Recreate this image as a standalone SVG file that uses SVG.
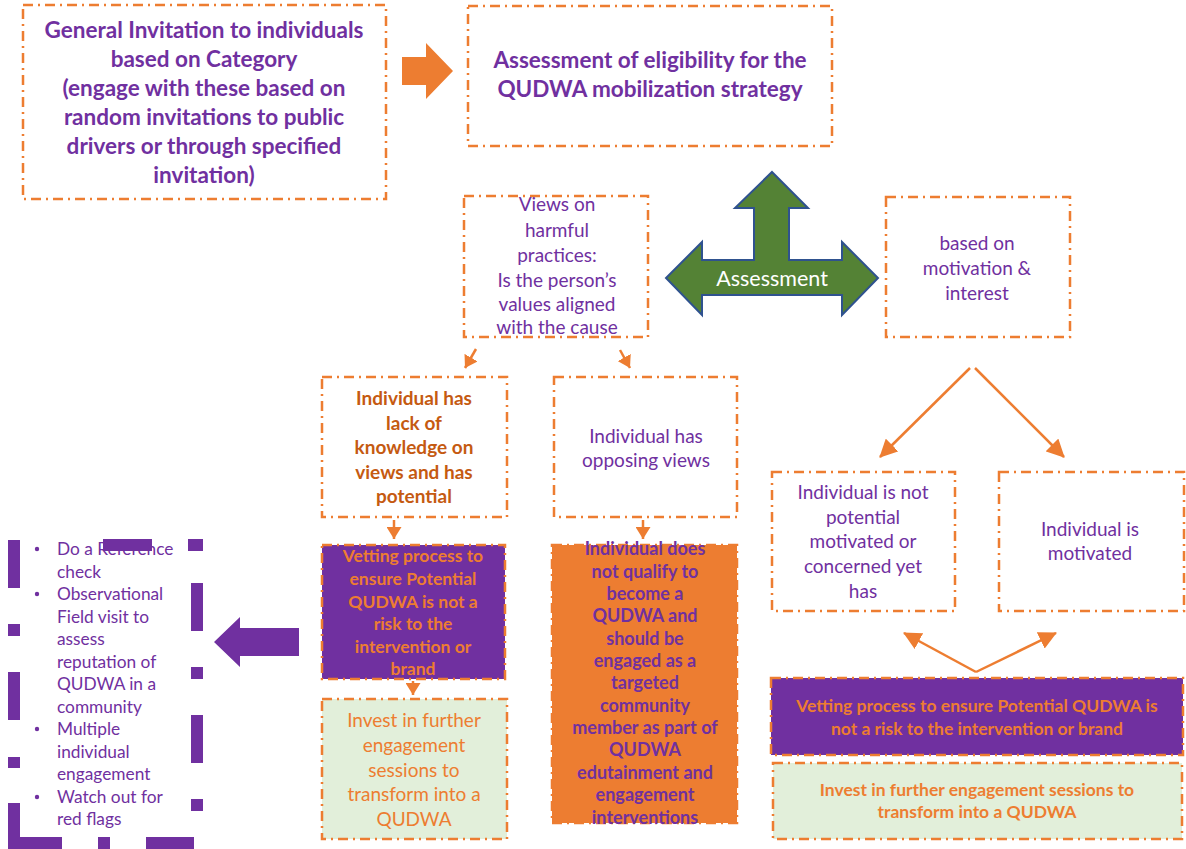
<svg xmlns="http://www.w3.org/2000/svg" width="1186" height="849" viewBox="0 0 1186 849">
<defs>
<style>
.ob{fill:#FFFFFF;stroke:#ED7D31;stroke-width:2.5;stroke-dasharray:10 5 2 5}
.pf{fill:#7030A0;stroke:#ED7D31;stroke-width:2.5;stroke-dasharray:10 5 2 5}
.of{fill:#ED7D31;stroke:#ED7D31;stroke-width:2.5;stroke-dasharray:10 5 2 5}
.gf{fill:#E2EFDA;stroke:#ED7D31;stroke-width:2.5;stroke-dasharray:10 5 2 5}
text{font-family:Lato,"Liberation Sans",sans-serif;text-anchor:middle}
.tp{fill:#7030A0;font-size:19px}
.tpb{fill:#7030A0;font-size:22.5px;font-weight:bold}
.tdo{fill:#C55A11;font-size:19px;font-weight:bold}
.tob{fill:#ED7D31;font-size:17.5px;font-weight:bold}
.to{fill:#ED7D31;font-size:19px}
.tpb2{fill:#7030A0;font-size:18px;font-weight:bold}
.tl{fill:#7030A0;font-size:17.3px;text-anchor:start}
.con{stroke:#ED7D31;stroke-width:2.5;fill:none}
</style>
<marker id="sh" viewBox="0 0 12 15" refX="12" refY="7.5" markerWidth="12" markerHeight="15" markerUnits="userSpaceOnUse" orient="auto"><path d="M0,0 L12,7.5 L0,15 Z" fill="#ED7D31"/></marker>
<marker id="lh" viewBox="0 0 18 18" refX="17" refY="9" markerWidth="18" markerHeight="18" markerUnits="userSpaceOnUse" orient="auto"><path d="M0,0 L18,9 L0,18 Z" fill="#ED7D31"/></marker>
</defs>

<g id="node-invitation">
<rect class="ob" x="23" y="5" width="363" height="194"/>
<text class="tpb"><tspan x="204" y="38">General Invitation to individuals</tspan><tspan x="204" y="67">based on Category</tspan><tspan x="204" y="96">(engage with these based on</tspan><tspan x="204" y="125">random invitations to public</tspan><tspan x="204" y="154">drivers or through specified</tspan><tspan x="204" y="183">invitation)</tspan></text>
</g>

<g id="node-eligibility">
<rect class="ob" x="468" y="6" width="364" height="140"/>
<text class="tpb"><tspan x="650" y="68">Assessment of eligibility for the</tspan><tspan x="650" y="97">QUDWA mobilization strategy</tspan></text>
</g>

<g id="node-views">
<rect class="ob" x="464" y="196" width="184" height="141"/>
<text class="tp"><tspan x="557" y="211">Views on</tspan><tspan x="557" y="236.5">harmful</tspan><tspan x="557" y="261.5">practices:</tspan><tspan x="557" y="286.5">Is the person’s</tspan><tspan x="557" y="310.5">values aligned</tspan><tspan x="557" y="334">with the cause</tspan></text>
</g>

<g id="node-assessment">
<path d="M772,172 L808,208 L789,208 L789,260 L842,260 L842,242 L878,278 L842,315 L842,295 L702,295 L702,315 L666,278 L702,242 L702,260 L754,260 L754,208 L735,208 Z" fill="#548235" stroke="#2F528F" stroke-width="2"/>
<text x="772" y="286" style="fill:#FFFFFF;font-size:21.5px">Assessment</text>
</g>

<g id="node-motivation">
<rect class="ob" x="886" y="197" width="184" height="140"/>
<text class="tp"><tspan x="977" y="250">based on</tspan><tspan x="977" y="275">motivation &amp;</tspan><tspan x="977" y="300">interest</tspan></text>
</g>

<g id="node-lack">
<rect class="ob" x="322" y="377" width="185" height="140"/>
<text class="tdo"><tspan x="414" y="405">Individual has</tspan><tspan x="414" y="429.5">lack of</tspan><tspan x="414" y="454">knowledge on</tspan><tspan x="414" y="478.5">views and has</tspan><tspan x="414" y="503">potential</tspan></text>
</g>

<g id="node-opposing">
<rect class="ob" x="554" y="377" width="183" height="140"/>
<text class="tp"><tspan x="646" y="443">Individual has</tspan><tspan x="646" y="467">opposing views</tspan></text>
</g>

<g id="node-vetting-left">
<rect class="pf" x="322" y="545" width="183" height="134"/>
<text class="tob"><tspan x="413" y="562">Vetting process to</tspan><tspan x="413" y="585">ensure Potential</tspan><tspan x="413" y="607.5">QUDWA is not a</tspan><tspan x="413" y="630">risk to the</tspan><tspan x="413" y="652.5">intervention or</tspan><tspan x="413" y="675">brand</tspan></text>
</g>

<g id="node-invest-left">
<rect class="gf" x="322" y="699" width="185" height="140"/>
<text class="to"><tspan x="414" y="727">Invest in further</tspan><tspan x="414" y="752">engagement</tspan><tspan x="414" y="776.5">sessions to</tspan><tspan x="414" y="801">transform into a</tspan><tspan x="414" y="826">QUDWA</tspan></text>
</g>

<g id="node-notqualify">
<rect class="of" x="552" y="545" width="185" height="278"/>
<text class="tpb2"><tspan x="645" y="555">Individual does</tspan><tspan x="645" y="577.5">not qualify to</tspan><tspan x="645" y="600">become a</tspan><tspan x="645" y="622">QUDWA and</tspan><tspan x="645" y="644.5">should be</tspan><tspan x="645" y="667">engaged as a</tspan><tspan x="645" y="689">targeted</tspan><tspan x="645" y="711.5">community</tspan><tspan x="645" y="734">member as part of</tspan><tspan x="645" y="756">QUDWA</tspan><tspan x="645" y="778.5">edutainment and</tspan><tspan x="645" y="801">engagement</tspan><tspan x="645" y="823.5">interventions</tspan></text>
</g>

<g id="node-checks">
<text class="tl"><tspan x="57" y="555">Do a Reference</tspan><tspan x="57" y="577.5">check</tspan><tspan x="57" y="600">Observational</tspan><tspan x="57" y="622.5">Field visit to</tspan><tspan x="57" y="645">assess</tspan><tspan x="57" y="667.5">reputation of</tspan><tspan x="57" y="690">QUDWA in a</tspan><tspan x="57" y="712.5">community</tspan><tspan x="57" y="735">Multiple</tspan><tspan x="57" y="757.5">individual</tspan><tspan x="57" y="780">engagement</tspan><tspan x="57" y="802.5">Watch out for</tspan><tspan x="57" y="825">red flags</tspan></text>
<g fill="#7030A0"><circle cx="37" cy="549" r="2.2"/><circle cx="37" cy="594" r="2.2"/><circle cx="37" cy="729" r="2.2"/><circle cx="37" cy="797" r="2.2"/></g>
<path d="M14,540 V588 M14,624 V636 M14,672 V720 M14,757 V768 M14,803 V843 H62 M98,843 H110 M146,843 H194 M197,539 V551 M197,583 V631 M197,667 V679 M197,715 V763 M197,799 V811 M103,545 H152 M188,545 H197" fill="none" stroke="#7030A0" stroke-width="12" stroke-linejoin="miter"/>
</g>

<g id="node-notpotential">
<rect class="ob" x="772" y="472" width="183" height="139"/>
<text class="tp"><tspan x="863" y="499">Individual is not</tspan><tspan x="863" y="523.7">potential</tspan><tspan x="863" y="548.4">motivated or</tspan><tspan x="863" y="573">concerned yet</tspan><tspan x="863" y="597.8">has</tspan></text>
</g>

<g id="node-motivated">
<rect class="ob" x="999" y="472" width="185" height="139"/>
<text class="tp"><tspan x="1090" y="536">Individual is</tspan><tspan x="1090" y="560">motivated</tspan></text>
</g>

<g id="node-vetting-right">
<rect class="pf" x="771" y="678" width="412" height="77"/>
<text class="tob"><tspan x="977" y="712">Vetting process to ensure Potential QUDWA is</tspan><tspan x="977" y="735">not a risk to the intervention or brand</tspan></text>
</g>

<g id="node-invest-right">
<rect class="gf" x="773" y="763" width="409" height="76"/>
<text class="tob"><tspan x="977" y="796">Invest in further engagement sessions to</tspan><tspan x="977" y="818">transform into a QUDWA</tspan></text>
</g>

<g id="connectors">
<path d="M402,57 L426,57 L426,43 L453,71 L426,99 L426,85 L402,85 Z" fill="#ED7D31"/>
<path d="M299,628 L240,628 L240,617 L214,642 L240,667 L240,656 L299,656 Z" fill="#7030A0"/>
<line class="con" x1="476" y1="349" x2="465" y2="368" marker-end="url(#sh)"/>
<line class="con" x1="620" y1="350" x2="630" y2="368" marker-end="url(#sh)"/>
<line class="con" x1="394" y1="520" x2="394" y2="539" marker-end="url(#sh)"/>
<line class="con" x1="643" y1="520" x2="643" y2="539" marker-end="url(#sh)"/>
<line class="con" x1="413" y1="681" x2="413" y2="695" marker-end="url(#sh)"/>
<line class="con" x1="970" y1="368" x2="880" y2="457" marker-end="url(#lh)"/>
<line class="con" x1="975" y1="368" x2="1064" y2="457" marker-end="url(#lh)"/>
<line class="con" x1="976" y1="672" x2="904" y2="633" marker-end="url(#lh)"/>
<line class="con" x1="976" y1="672" x2="1056" y2="633" marker-end="url(#lh)"/>
</g>
</svg>
